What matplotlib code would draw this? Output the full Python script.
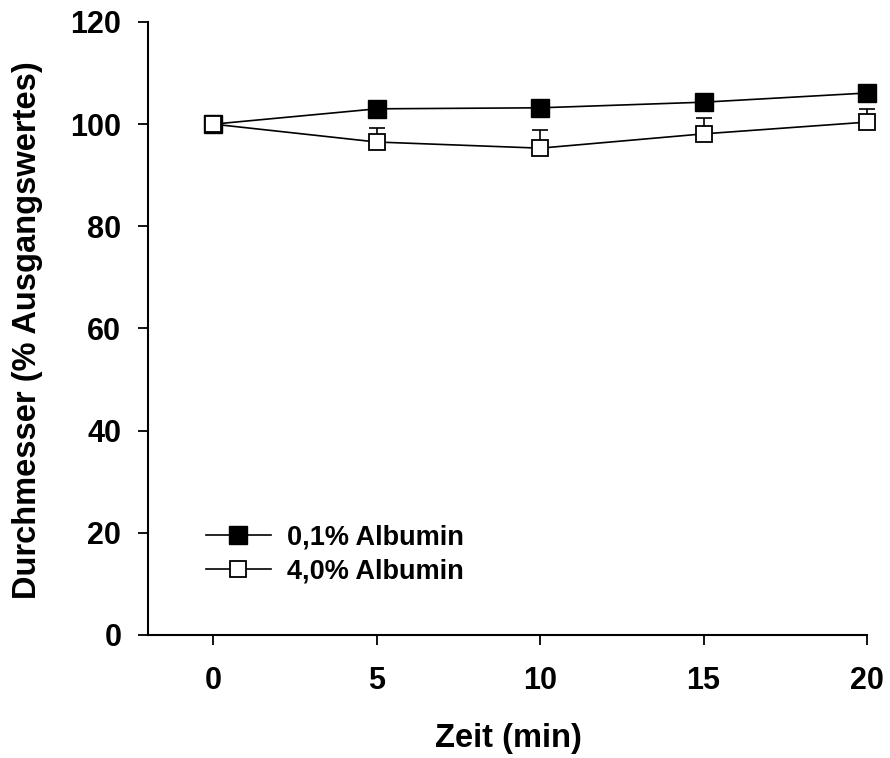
import matplotlib
matplotlib.use("Agg")
import matplotlib.pyplot as plt
from matplotlib.lines import Line2D

time_min = [0, 5, 10, 15, 20]
alb01 = [100.0, 103.0, 103.2, 104.3, 106.1]
alb01_err = [0.0, 1.0, 1.0, 1.0, 1.0]
alb40 = [100.0, 96.5, 95.3, 98.1, 100.4]
alb40_err = [0.0, 2.8, 3.6, 3.1, 2.6]
labels = ["0,1% Albumin", "4,0% Albumin"]
xticks = [0, 5, 10, 15, 20]
yticks = [0, 20, 40, 60, 80, 100, 120]

plt.rcParams['font.family'] = ['Liberation Sans', 'DejaVu Sans']
plt.rcParams['font.weight'] = 'bold'

fig = plt.figure(figsize=(8.9, 7.58), dpi=100)
ax = fig.add_axes([0.1663, 0.1623, 0.8079, 0.8087])

ax.errorbar(time_min, alb40, yerr=[[0]*5, alb40_err], fmt='-', color='black',
            lw=1.2, elinewidth=1.2, capsize=6, capthick=1.2, zorder=2, clip_on=False)
ax.plot(time_min, alb40, 's', color='black', mfc='white', mec='black',
        mew=1.3, ms=12, zorder=4, clip_on=False)
ax.errorbar(time_min, alb01, yerr=[[0]*5, alb01_err], fmt='-', color='black',
            lw=1.2, elinewidth=1.2, capsize=6, capthick=1.2, zorder=3, clip_on=False)
ax.plot(time_min, alb01, 's', color='black', mfc='black', mec='black',
        ms=13, zorder=5, clip_on=False)
ax.plot(time_min[:1], alb40[:1], 's', color='black', mfc='white', mec='black',
        mew=1.3, ms=12, zorder=6, clip_on=False)

ax.set_xlim(-2, 20)
ax.set_ylim(0, 120)
ax.set_xticks(xticks)
ax.set_yticks(yticks)
ax.spines['top'].set_visible(False)
ax.spines['right'].set_visible(False)
for s in ['left', 'bottom']:
    ax.spines[s].set_linewidth(1.5)
ax.tick_params(axis='x', direction='out', length=7.2, width=1.3, pad=15, labelsize=22)
ax.tick_params(axis='y', direction='out', length=7.2, width=1.3, pad=12, labelsize=22)
for t in ax.get_xticklabels() + ax.get_yticklabels():
    t.set_fontweight('bold')

ax.set_xlabel("Zeit (min)", fontsize=23.5, fontweight='bold', va='center')
ax.set_ylabel("Durchmesser (% Ausgangswertes)", fontsize=23.5, fontweight='bold', va='center')
ax.xaxis.set_label_coords(508 / 890, (758 - 738) / 758, transform=fig.transFigure)
ax.yaxis.set_label_coords(28 / 890, (758 - 330) / 758, transform=fig.transFigure)

handles = [
    Line2D([], [], color='black', lw=1.2, marker='s', ms=13, mfc='black', mec='black'),
    Line2D([], [], color='black', lw=1.2, marker='s', ms=12, mfc='white', mec='black', mew=1.3),
]
leg = ax.legend(handles, labels, loc='upper left', bbox_to_anchor=(0.08, 0.18),
                frameon=False, fontsize=19.5, handlelength=2.4, handletextpad=0.6,
                labelspacing=0.3, borderaxespad=0, borderpad=0)
for t in leg.get_texts():
    t.set_fontweight('bold')

fig.savefig("out.png", dpi=100)
